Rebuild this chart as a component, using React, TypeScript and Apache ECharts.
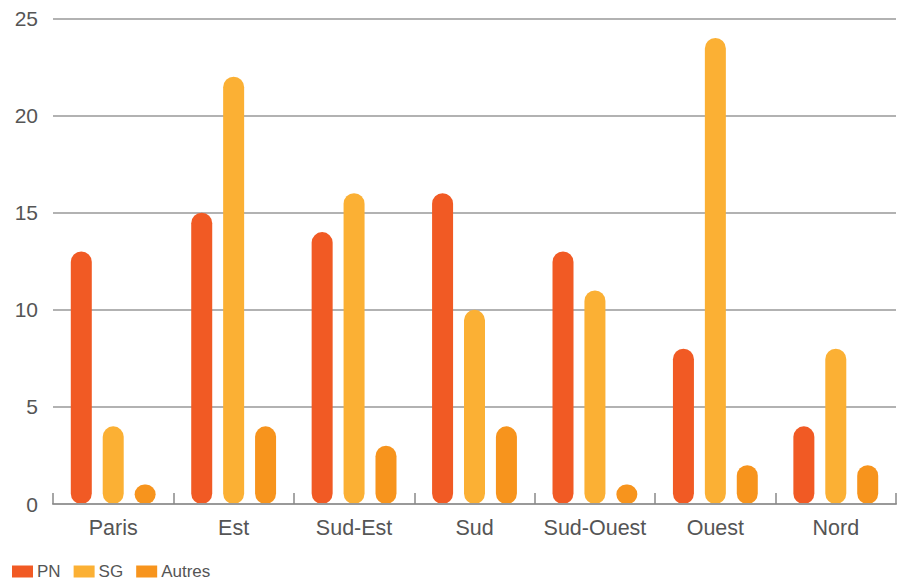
import React, { useEffect, useRef } from "react";
import * as echarts from "echarts";

const categories = ["Paris", "Est", "Sud-Est", "Sud", "Sud-Ouest", "Ouest", "Nord"];
const pnValues = [13, 15, 14, 16, 13, 8, 4];
const sgValues = [4, 22, 16, 10, 11, 24, 8];
const autresValues = [1, 4, 3, 4, 1, 2, 2];
const seriesNames = ["PN", "SG", "Autres"];
const colors = ["#F15A24", "#FBB034", "#F7941D"];

export default function App() {
  const ref = useRef<HTMLDivElement>(null);
  useEffect(() => {
    if (!ref.current) return;
    const chart = echarts.init(ref.current, undefined, { renderer: "svg" });
    const data = [pnValues, sgValues, autresValues];
    chart.setOption({
      animation: false,
      textStyle: { fontFamily: "Liberation Sans, Arial, sans-serif" },
      legend: {
        left: 4,
        bottom: 0,
        padding: 0,
        itemWidth: 21,
        itemHeight: 12,
        itemGap: 13,
        icon: "rect",
        textStyle: { fontSize: 17, color: "#555", padding: [0, 0, 0, -1] },
        data: seriesNames,
      },
      grid: { left: 45, right: 10, top: 7, bottom: 76 },
      xAxis: {
        type: "category",
        data: categories,
        z: 5,
        axisLine: { show: true, lineStyle: { color: "#999", width: 2 } },
        axisTick: { show: true, inside: true, length: 11, lineStyle: { color: "#888", width: 1.5 } },
        axisLabel: { color: "#555", fontSize: 21.5, margin: 13, interval: 0 },
      },
      yAxis: {
        type: "value",
        min: 0,
        max: 25,
        interval: 5,
        axisLine: { show: false },
        axisTick: { show: false },
        axisLabel: { color: "#555", fontSize: 21, margin: 15 },
        splitLine: { lineStyle: { color: "#999", width: 1.5 } },
      },
      series: seriesNames.map((name, i) => ({
        name,
        type: "bar",
        data: data[i],
        barWidth: 21,
        barGap: "52%",
        itemStyle: { color: colors[i], borderRadius: 10.5 },
      })),
    });
    return () => chart.dispose();
  }, []);
  return <div ref={ref} style={{ width: 898, height: 572 }} />;
}
